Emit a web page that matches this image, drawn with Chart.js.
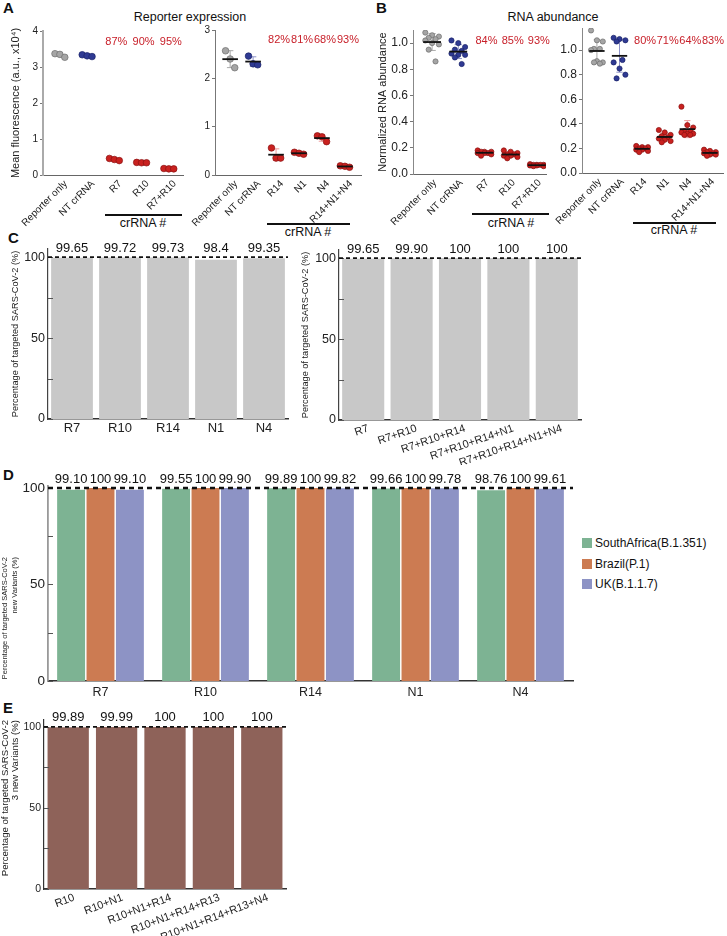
<!DOCTYPE html>
<html>
<head>
<meta charset="utf-8">
<script src="https://cdn.jsdelivr.net/npm/chart.js@4.4.0/dist/chart.umd.min.js"></script>
<style>
body { margin: 0; background: #fff; font-family: "Liberation Sans", Arial, sans-serif; }
#wrap { position: relative; width: 727px; height: 936px; overflow: hidden; }
.t { position: absolute; white-space: nowrap; color: #111; line-height: 1; }
.letter { font-weight: bold; font-size: 15px; }
.ttl { font-size: 12.5px; transform: translateX(-50%); }
.cr { font-size: 12.5px; transform: translateX(-50%); }
.rule { position: absolute; height: 1.6px; background: #111; }
.leg { position: absolute; left: 582px; font-size: 12px; color: #111; }
.leg div { height: 20.5px; display: flex; align-items: center; }
.leg span { display: inline-block; width: 10px; height: 10px; margin-right: 3px; }
</style>
</head>
<body>
<div id="wrap">
  <div class="t letter" style="left:3px;top:0px">A</div>
  <div class="t letter" style="left:376px;top:0px">B</div>
  <div class="t letter" style="left:8px;top:230px">C</div>
  <div class="t letter" style="left:3px;top:467px">D</div>
  <div class="t letter" style="left:3px;top:700px">E</div>

  <div class="t ttl" style="left:190px;top:11px">Reporter expression</div>
  <div class="t ttl" style="left:553px;top:11px">RNA abundance</div>

  <div class="rule" style="left:105px;top:214px;width:77px"></div>
  <div class="t cr" style="left:143px;top:217px">crRNA #</div>
  <div class="rule" style="left:267px;top:223px;width:83px"></div>
  <div class="t cr" style="left:308px;top:226px">crRNA #</div>
  <div class="rule" style="left:472px;top:213px;width:77px"></div>
  <div class="t cr" style="left:511px;top:217px">crRNA #</div>
  <div class="rule" style="left:633px;top:222px;width:83px"></div>
  <div class="t cr" style="left:674px;top:224px">crRNA #</div>

  <div class="leg" id="legD" style="top:533px"></div>
</div>
<script>
// ---- panel A: reporter expression (a.u., x10^4) ----
const a1Labels = ['Reporter only', 'NT crRNA', 'R7', 'R10', 'R7+R10'];
const a1Values = [
  [3.37, 3.35, 3.27],
  [3.34, 3.31, 3.29],
  [0.46, 0.43, 0.40],
  [0.35, 0.34, 0.34],
  [0.18, 0.17, 0.17]
];
const a1Pct = ['', '', '87%', '90%', '95%'];

const a2Labels = ['Reporter only', 'NT crRNA', 'R14', 'N1', 'N4', 'R14+N1+N4'];
const a2Values = [
  [2.57, 2.40, 2.22],
  [2.46, 2.30, 2.28],
  [0.56, 0.35, 0.35],
  [0.47, 0.45, 0.43],
  [0.81, 0.79, 0.69],
  [0.19, 0.18, 0.16]
];
const a2Pct = ['', '', '82%', '81%', '68%', '93%'];

// ---- panel B: normalized RNA abundance ----
const b1Labels = ['Reporter only', 'NT crRNA', 'R7', 'R10', 'R7+R10'];
const b1Values = [
  [1.08, 1.06, 1.05, 1.04, 1.03, 1.02, 1.00, 0.99, 0.95, 0.86],
  [1.02, 1.00, 0.97, 0.95, 0.94, 0.92, 0.91, 0.91, 0.89, 0.84],
  [0.18, 0.17, 0.17, 0.17, 0.16, 0.16, 0.16, 0.15, 0.14],
  [0.18, 0.17, 0.16, 0.15, 0.15, 0.14, 0.14, 0.13, 0.12],
  [0.075, 0.07, 0.07, 0.07, 0.07, 0.065, 0.065, 0.06, 0.06]
];
const b1Pct = ['', '', '84%', '85%', '93%'];

const b2Labels = ['Reporter only', 'NT crRNA', 'R14', 'N1', 'N4', 'R14+N1+N4'];
const b2Values = [
  [1.16, 1.08, 1.07, 1.01, 1.01, 1.00, 0.91, 0.90, 0.90, 0.89],
  [1.10, 1.09, 1.08, 1.07, 0.92, 0.90, 0.85, 0.80, 0.77],
  [0.22, 0.21, 0.21, 0.20, 0.20, 0.19, 0.19, 0.18, 0.17],
  [0.35, 0.33, 0.31, 0.30, 0.29, 0.28, 0.27, 0.26, 0.25],
  [0.54, 0.39, 0.37, 0.34, 0.34, 0.33, 0.32, 0.32, 0.31, 0.31],
  [0.19, 0.18, 0.17, 0.17, 0.16, 0.16, 0.15, 0.15, 0.14]
];
const b2Pct = ['', '', '80%', '71%', '64%', '83%'];

// ---- panel C: % targeted SARS-CoV-2 ----
const c1Labels = ['R7', 'R10', 'R14', 'N1', 'N4'];
const c1Values = [99.65, 99.72, 99.73, 98.4, 99.35];
const c1Text = ['99.65', '99.72', '99.73', '98.4', '99.35'];

const c2Labels = ['R7', 'R7+R10', 'R7+R10+R14', 'R7+R10+R14+N1', 'R7+R10+R14+N1+N4'];
const c2Values = [99.65, 99.90, 100, 100, 100];
const c2Text = ['99.65', '99.90', '100', '100', '100'];

// ---- panel D: new variants ----
const dLabels = ['R7', 'R10', 'R14', 'N1', 'N4'];
const dSeries = ['SouthAfrica(B.1.351)', 'Brazil(P.1)', 'UK(B.1.1.7)'];
const dSouthAfrica = [99.10, 99.55, 99.89, 99.66, 98.76];
const dBrazil = [100, 100, 100, 100, 100];
const dUK = [99.10, 99.90, 99.82, 99.78, 99.61];
const dSouthAfricaText = ['99.10', '99.55', '99.89', '99.66', '98.76'];
const dBrazilText = ['100', '100', '100', '100', '100'];
const dUKText = ['99.10', '99.90', '99.82', '99.78', '99.61'];

// ---- panel E: 3 new variants ----
const eLabels = ['R10', 'R10+N1', 'R10+N1+R14', 'R10+N1+R14+R13', 'R10+N1+R14+R13+N4'];
const eValues = [99.89, 99.99, 100, 100, 100];
const eText = ['99.89', '99.99', '100', '100', '100'];

const FONT = '"Liberation Sans", Arial, Helvetica, sans-serif';
Chart.defaults.font.family = FONT;
Chart.defaults.color = '#222';

const wrap = document.getElementById('wrap');

// box = [left, top, width, height] of canvas, area = [left, top, right, bottom] of plot area (page px)
function place(box, area) {
  const c = document.createElement('canvas');
  c.width = box[2];
  c.height = box[3];
  c.style.cssText = 'position:absolute;left:' + box[0] + 'px;top:' + box[1] + 'px;width:' + box[2] + 'px;height:' + box[3] + 'px';
  wrap.appendChild(c);
  return {
    canvas: c,
    pad: {left: 0, bottom: 0, top: area[1] - box[1], right: box[0] + box[2] - area[2]},
    yW: area[0] - box[0],
    xH: box[1] + box[3] - area[3]
  };
}

const avg = a => a.reduce((s, v) => s + v, 0) / a.length;
const sdev = a => { const m = avg(a); return Math.sqrt(a.reduce((s, v) => s + (v - m) * (v - m), 0) / (a.length - 1)); };

function dotChart(box, area, labels, values, pct, o) {
  const g = place(box, area);
  const grp = i => (i === 0 ? 0 : i === 1 ? 1 : 2);
  const fill = ['#a5a5a5', '#2f3a93', '#c9211f'];
  const edge = ['#6f6f6f', '#1a2268', '#8a1111'];
  const whisk = ['#a9a9a9', '#8d92c9', '#ef9b9b'];
  const jit = (j, n) => (n <= 3 ? j - (n - 1) / 2 : ((j * 2) % 5) - 2);

  const marks = {
    id: 'marks',
    beforeDatasetsDraw(chart) {
      if (!o.mean) return;
      const {ctx, scales: {x, y}} = chart;
      const step = x.getPixelForValue(1) - x.getPixelForValue(0);
      values.forEach((vals, i) => {
        const m = avg(vals), s = sdev(vals);
        const cx = x.getPixelForValue(i), cap = step * 0.14;
        const yt = y.getPixelForValue(m + s), yb = y.getPixelForValue(m - s);
        ctx.save();
        ctx.strokeStyle = whisk[grp(i)];
        ctx.lineWidth = 1;
        ctx.beginPath();
        ctx.moveTo(cx, yt); ctx.lineTo(cx, yb);
        ctx.moveTo(cx - cap, yt); ctx.lineTo(cx + cap, yt);
        ctx.moveTo(cx - cap, yb); ctx.lineTo(cx + cap, yb);
        ctx.stroke();
        ctx.restore();
      });
    },
    afterDatasetsDraw(chart) {
      const {ctx, chartArea, scales: {x, y}} = chart;
      const step = x.getPixelForValue(1) - x.getPixelForValue(0);
      ctx.save();
      if (o.mean) {
        ctx.strokeStyle = '#111';
        ctx.lineWidth = 1.8;
        values.forEach((vals, i) => {
          const cx = x.getPixelForValue(i), my = y.getPixelForValue(avg(vals));
          ctx.beginPath();
          ctx.moveTo(cx - step * 0.34, my);
          ctx.lineTo(cx + step * 0.34, my);
          ctx.stroke();
        });
      }
      ctx.font = '11px ' + FONT;
      ctx.fillStyle = '#c8202a';
      ctx.textAlign = 'center';
      ctx.textBaseline = 'middle';
      pct.forEach((p, i) => { if (p) ctx.fillText(p, x.getPixelForValue(i) + o.pctDx, chartArea.top + o.pctDy); });
      ctx.restore();
    }
  };

  new Chart(g.canvas, {
    type: 'scatter',
    data: {
      datasets: values.map((vals, i) => ({
        data: vals.map((v, j) => ({x: i + jit(j, vals.length) * o.jit, y: v})),
        backgroundColor: fill[grp(i)],
        borderColor: edge[grp(i)],
        borderWidth: 0.7,
        pointRadius: o.r,
        pointHoverRadius: o.r
      }))
    },
    options: {
      responsive: false,
      animation: false,
      layout: {padding: g.pad},
      plugins: {legend: {display: false}, tooltip: {enabled: false}},
      scales: {
        x: {
          type: 'linear', min: o.xmin, max: o.xmax,
          afterBuildTicks: s => { s.ticks = labels.map((_, i) => ({value: i})); },
          afterFit: s => { s.height = g.xH; s.paddingLeft = 0; s.paddingRight = 0; },
          grid: {display: false, drawTicks: false, tickLength: 0},
          border: {color: '#666', width: 1},
          ticks: {autoSkip: false, minRotation: 45, maxRotation: 45, padding: 3, labelOffset: o.lo,
                  font: {size: 10}, color: '#222', callback: v => labels[v]}
        },
        y: {
          min: 0, max: o.ymax,
          afterFit: s => { s.width = g.yW; s.paddingTop = 0; s.paddingBottom = 0; },
          grid: {drawOnChartArea: false, tickLength: 3, color: '#777'},
          border: {color: o.axisColor, width: o.axisW},
          ticks: {stepSize: o.step, includeBounds: false, padding: 2, font: {size: o.tick}, color: '#222',
                  callback: v => (o.dec ? v.toFixed(1) : v)},
          title: o.title
            ? {display: true, text: o.title, font: {size: 11}, color: '#222', padding: {top: o.tpad, bottom: 0}}
            : {display: false}
        }
      }
    },
    plugins: [marks]
  });
}

function barChart(box, area, labels, sets, o) {
  const g = place(box, area);
  const deco = {
    id: 'deco',
    afterDraw(chart) {
      const {ctx, chartArea: ca, scales: {y}} = chart;
      const y100 = y.getPixelForValue(100);
      ctx.save();
      ctx.strokeStyle = '#555';
      ctx.lineWidth = 1;
      [0, 25, 50, 75, 100].forEach(v => {
        const py = Math.round(y.getPixelForValue(v)) + 0.5;
        ctx.beginPath();
        ctx.moveTo(ca.left, py);
        ctx.lineTo(ca.left + 5, py);
        ctx.stroke();
      });
      ctx.setLineDash(o.dash);
      ctx.lineWidth = o.dashW;
      ctx.strokeStyle = '#111';
      ctx.beginPath();
      ctx.moveTo(ca.left, y100);
      ctx.lineTo(ca.right, y100);
      ctx.stroke();
      ctx.setLineDash([]);
      ctx.font = o.valFont + 'px ' + FONT;
      ctx.fillStyle = '#111';
      ctx.textAlign = 'center';
      ctx.textBaseline = 'middle';
      sets.forEach((s, k) => {
        chart.getDatasetMeta(k).data.forEach((bar, i) => ctx.fillText(s.text[i], bar.x, y100 - o.valDy));
      });
      // axis title whose lines are top-aligned at a point below the axis top
      if (o.topTitle) {
        const tt = o.topTitle;
        ctx.font = tt.size + 'px ' + FONT;
        ctx.fillStyle = '#222';
        ctx.textAlign = 'right';
        ctx.textBaseline = 'middle';
        ctx.translate(tt.x, tt.top);
        ctx.rotate(-Math.PI / 2);
        tt.lines.forEach((ln, k) => ctx.fillText(ln, 0, k * tt.lh));
      }
      ctx.restore();
    }
  };

  new Chart(g.canvas, {
    type: 'bar',
    data: {
      labels: labels,
      datasets: sets.map(s => ({
        label: s.label,
        data: s.data,
        backgroundColor: s.color,
        categoryPercentage: o.cat,
        barPercentage: o.bar
      }))
    },
    options: {
      responsive: false,
      animation: false,
      layout: {padding: g.pad},
      plugins: {legend: {display: false}, tooltip: {enabled: false}},
      scales: {
        x: {
          afterFit: s => { s.height = g.xH; s.paddingLeft = 0; s.paddingRight = 0; },
          grid: {display: false, drawTicks: false, tickLength: 0},
          border: {color: '#333', width: 1.5},
          ticks: {autoSkip: false, minRotation: o.rot, maxRotation: o.rot, padding: o.xpad, labelOffset: o.lo,
                  font: {size: o.xFont}, color: '#222'}
        },
        y: {
          min: 0, max: o.ymax,
          afterBuildTicks: s => { s.ticks = [0, 25, 50, 75, 100].map(v => ({value: v})); },
          afterFit: s => { s.width = g.yW; s.paddingTop = 0; s.paddingBottom = 0; },
          grid: {display: false, drawTicks: false, tickLength: 0},
          border: {color: o.axisColor, width: o.axisW},
          ticks: {padding: 3, font: {size: o.tick}, color: '#222', callback: v => (v % 50 === 0 ? v : '')},
          title: o.title
            ? {display: true, text: o.title, align: o.tAlign, color: '#222',
               font: {size: o.tFont, lineHeight: o.tLh}, padding: {top: o.tpad, bottom: 0}}
            : {display: false}
        }
      }
    },
    plugins: [deco]
  });
}

// A
dotChart([0, 20, 188, 212], [43, 31, 183, 175], a1Labels, a1Values, a1Pct,
  {xmin: -0.62, xmax: 4.52, ymax: 4, step: 1, tick: 10, jit: 0.18, r: 3.3, lo: 6, mean: false,
   pctDx: 2, pctDy: 11, axisColor: '#aaa', axisW: 2, title: 'Mean fluorescence (a.u., x10\u2074)', tpad: 9.4});
dotChart([188, 20, 180, 212], [215, 30, 361, 175], a2Labels, a2Values, a2Pct,
  {xmin: -0.66, xmax: 5.7, ymax: 3, step: 1, tick: 10, jit: 0.2, r: 3.3, lo: 6, mean: true,
   pctDx: 3, pctDy: 10, axisColor: '#777', axisW: 1});
// B
dotChart([370, 20, 180, 212], [413, 30, 546, 174], b1Labels, b1Values, b1Pct,
  {xmin: -0.73, xmax: 4.35, ymax: 1.1, step: 0.2, tick: 12, dec: true, jit: 0.13, r: 2.6, lo: 3, mean: true,
   pctDx: 2, pctDy: 11, axisColor: '#888', axisW: 1, title: 'Normalized RNA abundance', tpad: 6.4});
dotChart([550, 20, 177, 212], [582, 28, 725, 173], b2Labels, b2Values, b2Pct,
  {xmin: -0.66, xmax: 5.61, ymax: 1.18, step: 0.2, tick: 12, dec: true, jit: 0.13, r: 2.6, lo: 3, mean: true,
   pctDx: 3, pctDy: 13, axisColor: '#888', axisW: 1});

// C
const cTitle = 'Percentage of targeted SARS-CoV-2 (%)';
barChart([0, 235, 292, 210], [48, 249, 288, 419], c1Labels,
  [{label: 'C', data: c1Values, text: c1Text, color: '#c8c8c8'}],
  {cat: 1, bar: 0.87, ymax: 105, rot: 0, xpad: 2, lo: 0, xFont: 13, tick: 12.5, valFont: 13, valDy: 9,
   dash: [4, 3], dashW: 1.8, axisColor: '#444', axisW: 1.2, title: cTitle, tAlign: 'center', tFont: 9.2, tLh: 1.2, tpad: 9.5});
barChart([295, 235, 300, 230], [339, 250, 581, 420], c2Labels,
  [{label: 'C', data: c2Values, text: c2Text, color: '#c8c8c8'}],
  {cat: 1, bar: 0.87, ymax: 105, rot: 19, xpad: 2, lo: 5, xFont: 11, tick: 12.5, valFont: 13, valDy: 9,
   dash: [4, 3], dashW: 1.8, axisColor: '#444', axisW: 1.2, title: cTitle, tAlign: 'center', tFont: 9.2, tLh: 1.2, tpad: 4.5});

// D
const dColors = ['#7db393', '#cc7b52', '#8d93c5'];
barChart([0, 465, 580, 240], [48, 486, 573, 681], dLabels,
  [{label: dSeries[0], data: dSouthAfrica, text: dSouthAfricaText, color: dColors[0]},
   {label: dSeries[1], data: dBrazil, text: dBrazilText, color: dColors[1]},
   {label: dSeries[2], data: dUK, text: dUKText, color: dColors[2]}],
  {cat: 0.84, bar: 0.95, ymax: 101, rot: 0, xpad: 4, lo: 0, xFont: 12.5, tick: 13.5, valFont: 13, valDy: 9,
   dash: [5, 4], dashW: 2.4, axisColor: '#999', axisW: 1.8,
   topTitle: {lines: ['Percentage of targeted SARS-CoV-2', 'new Variants (%)'], size: 7.5, lh: 10, x: 5, top: 92}});
document.getElementById('legD').innerHTML = dSeries
  .map((s, i) => '<div><span style="background:' + dColors[i] + '"></span>' + s + '</div>').join('');

// E
barChart([0, 700, 295, 236], [44, 720, 286, 889], eLabels,
  [{label: 'E', data: eValues, text: eText, color: '#8e6259'}],
  {cat: 1, bar: 0.853, ymax: 104.3, rot: 21, xpad: 2, lo: 6, xFont: 11, tick: 10.5, valFont: 13, valDy: 10,
   dash: [4, 3], dashW: 1.8, axisColor: '#333', axisW: 1.2,
   title: ['Percentage of targeted SARS-CoV-2', '3 new Variants (%)'], tAlign: 'end', tFont: 9.6, tLh: 1.05, tpad: 0});
</script>
</body>
</html>
